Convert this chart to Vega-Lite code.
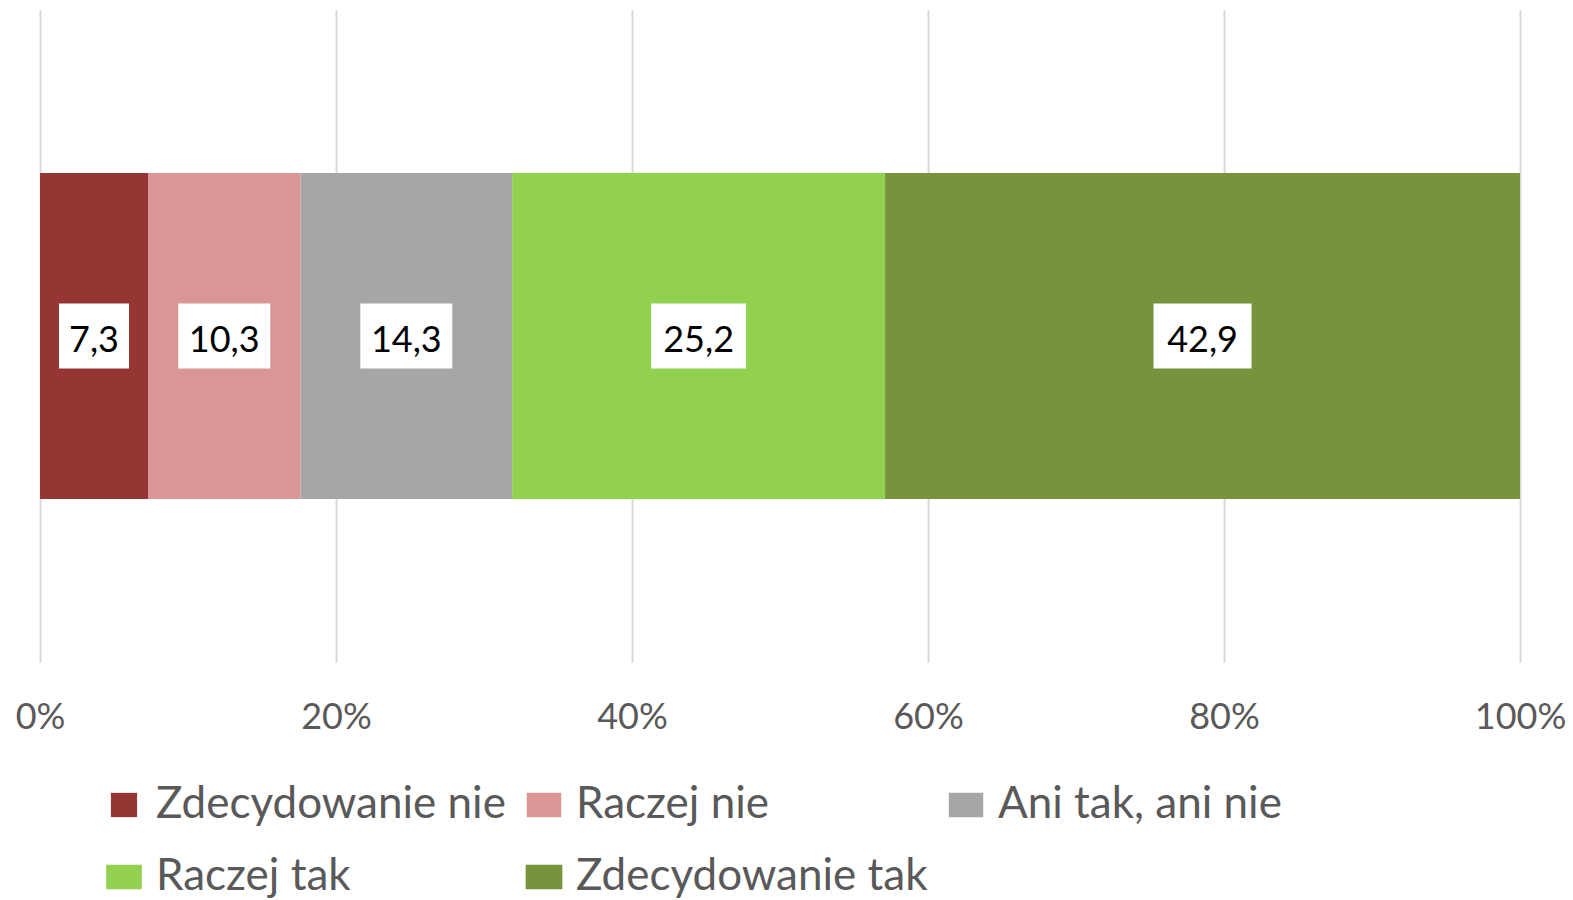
{
  "$schema": "https://vega.github.io/schema/vega-lite/v6.json",
  "width": 1480,
  "height": 652,
  "autosize": {"type": "none"},
  "padding": {"left": 40, "top": 10, "right": 53, "bottom": 238},
  "background": "white",
  "config": {
    "locale": {"number": {"decimal": ",", "thousands": " ", "grouping": [3], "currency": ["", " zł"]}},
    "font": "Lato",
    "view": {"stroke": null}
  },
  "data": {
    "values": [
      {"kategoria": "Zdecydowanie nie", "wartosc": 7.3, "kolejnosc": 1},
      {"kategoria": "Raczej nie", "wartosc": 10.3, "kolejnosc": 2},
      {"kategoria": "Ani tak, ani nie", "wartosc": 14.3, "kolejnosc": 3},
      {"kategoria": "Raczej tak", "wartosc": 25.2, "kolejnosc": 4},
      {"kategoria": "Zdecydowanie tak", "wartosc": 42.9, "kolejnosc": 5}
    ]
  },
  "transform": [
    {"stack": "wartosc", "groupby": [], "sort": [{"field": "kolejnosc", "order": "ascending"}], "offset": "normalize", "as": ["v0", "v1"]}
  ],
  "layer": [
    {
      "mark": {"type": "bar"},
      "encoding": {
        "x": {
          "field": "v0", "type": "quantitative",
          "scale": {"domain": [0, 1], "nice": false},
          "axis": {
            "format": ".0%", "values": [0, 0.2, 0.4, 0.6, 0.8, 1], "labelOverlap": false,
            "domain": false, "ticks": false, "grid": true, "gridColor": "#d9d9d9", "gridWidth": 2,
            "labelFontSize": 36, "labelColor": "#595959", "labelPadding": 38, "title": null,
            "labelFlush": false
          }
        },
        "x2": {"field": "v1"},
        "y": {"datum": "a", "type": "nominal", "scale": {"paddingInner": 0, "paddingOuter": 0.5}, "axis": null},
        "color": {
          "field": "kategoria", "type": "nominal",
          "scale": {
            "domain": ["Zdecydowanie nie", "Raczej nie", "Ani tak, ani nie", "Raczej tak", "Zdecydowanie tak"],
            "range": ["#963634", "#da9694", "#a6a6a6", "#92d050", "#77933c"]
          },
          "legend": {
            "orient": "none", "legendX": 62, "legendY": 773, "direction": "horizontal", "columns": 3,
            "title": null, "symbolType": "square", "symbolSize": 1400, "symbolStrokeWidth": 0,
            "labelFontSize": 44, "labelColor": "#595959", "labelOffset": 10, "columnPadding": 16,
            "rowPadding": 28, "labelLimit": 600
          }
        }
      }
    },
    {
      "transform": [
        {"fold": ["v0", "v1"], "as": ["koniec", "pozycja"]},
        {"aggregate": [{"op": "mean", "field": "pozycja", "as": "srodek"}], "groupby": ["kategoria", "wartosc"]}
      ],
      "layer": [
        {
          "mark": {"type": "point", "filled": true, "color": "white", "opacity": 1, "size": 10000, "strokeWidth": 0},
          "encoding": {
            "x": {"field": "srodek", "type": "quantitative"},
            "y": {"datum": "a", "type": "nominal"},
            "shape": {
              "field": "kategoria", "type": "nominal", "legend": null,
              "scale": {
                "domain": ["Zdecydowanie nie", "Raczej nie", "Ani tak, ani nie", "Raczej tak", "Zdecydowanie tak"],
                "range": [
                  "M-0.7,-0.65H0.7V0.65H-0.7Z",
                  "M-0.92,-0.65H0.92V0.65H-0.92Z",
                  "M-0.92,-0.65H0.92V0.65H-0.92Z",
                  "M-0.95,-0.65H0.95V0.65H-0.95Z",
                  "M-0.98,-0.65H0.98V0.65H-0.98Z"
                ]
              }
            }
          }
        },
        {
          "mark": {"type": "text", "fontSize": 36, "color": "black", "baseline": "middle", "align": "center", "dy": 5},
          "encoding": {
            "x": {"field": "srodek", "type": "quantitative"},
            "y": {"datum": "a", "type": "nominal"},
            "text": {"field": "wartosc", "type": "quantitative", "format": ".1f"}
          }
        }
      ]
    }
  ]
}
